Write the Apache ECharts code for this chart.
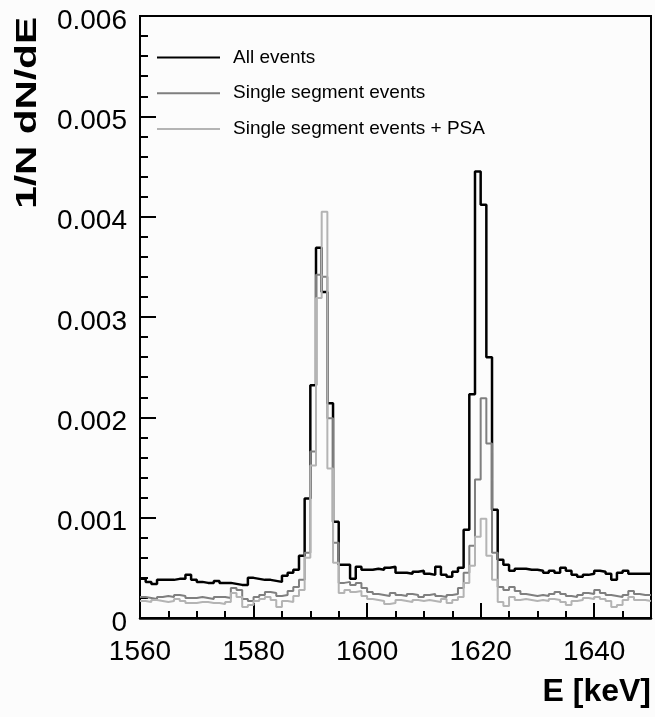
<!DOCTYPE html>
<html><head><meta charset="utf-8">
<script src="https://cdn.jsdelivr.net/npm/echarts@6/dist/echarts.min.js"></script>
<style>html,body{margin:0;padding:0;background:#fcfcfc}#c{width:655px;height:717px}</style>
</head><body><div id="c"></div>
<script>
// Histogram binning (1 keV bins from 1560 to 1650 keV)
const binStart = 1560;
const binWidth = 1;
const xMin = 1560, xMax = 1650, xMajor = 20, xMinor = 5;
const yMin = 0, yMax = 0.006, yMajor = 0.001;

const seriesNames = ['All events', 'Single segment events', 'Single segment events + PSA'];

const allEvents = [
0.00039,0.00036,0.00034,0.00038,0.00038,0.00038,0.00039,0.00039,0.00043,0.00038,
0.00036,0.00035,0.00035,0.00037,0.00035,0.00035,0.00034,0.00033,0.00033,0.00040,
0.00039,0.00038,0.00038,0.00037,0.00036,0.00042,0.00045,0.00048,0.00062,0.00119,
0.00232,0.00369,0.00325,0.00214,0.00096,0.00053,0.00053,0.00039,0.00051,0.00048,
0.00048,0.00049,0.00048,0.00050,0.00051,0.00045,0.00045,0.00044,0.00046,0.00047,
0.00044,0.00043,0.00051,0.00043,0.00041,0.00046,0.00050,0.00088,0.00223,0.00445,
0.00412,0.00260,0.00108,0.00058,0.00053,0.00047,0.00049,0.00049,0.00048,0.00048,
0.00047,0.00045,0.00047,0.00045,0.00050,0.00047,0.00043,0.00041,0.00043,0.00044,
0.00047,0.00046,0.00044,0.00038,0.00045,0.00047,0.00044,0.00044,0.00044,0.00044
];

const singleSeg = [
0.00021,0.00020,0.00019,0.00021,0.00022,0.00021,0.00023,0.00022,0.00020,0.00020,
0.00021,0.00020,0.00019,0.00021,0.00021,0.00020,0.00030,0.00028,0.00019,0.00017,
0.00021,0.00023,0.00026,0.00025,0.00022,0.00023,0.00027,0.00031,0.00038,0.00065,
0.00166,0.00342,0.00340,0.00199,0.00075,0.00035,0.00036,0.00033,0.00035,0.00030,
0.00026,0.00024,0.00023,0.00022,0.00025,0.00023,0.00022,0.00024,0.00023,0.00021,
0.00023,0.00024,0.00022,0.00021,0.00023,0.00024,0.00030,0.00045,0.00072,0.00138,
0.00219,0.00174,0.00065,0.00031,0.00028,0.00031,0.00027,0.00024,0.00023,0.00022,
0.00023,0.00022,0.00024,0.00026,0.00024,0.00022,0.00021,0.00023,0.00025,0.00024,
0.00028,0.00025,0.00023,0.00022,0.00021,0.00023,0.00027,0.00024,0.00023,0.00023
];

const singleSegPSA = [
0.00017,0.00016,0.00018,0.00017,0.00016,0.00017,0.00019,0.00017,0.00015,0.00015,
0.00016,0.00016,0.00015,0.00015,0.00014,0.00016,0.00025,0.00021,0.00011,0.00013,
0.00017,0.00019,0.00021,0.00018,0.00011,0.00017,0.00016,0.00022,0.00028,0.00060,
0.00152,0.00319,0.00405,0.00149,0.00055,0.00025,0.00028,0.00026,0.00027,0.00022,
0.00019,0.00018,0.00017,0.00014,0.00015,0.00018,0.00017,0.00016,0.00018,0.00017,
0.00018,0.00017,0.00016,0.00019,0.00015,0.00018,0.00021,0.00035,0.00052,0.00081,
0.00099,0.00062,0.00038,0.00016,0.00012,0.00021,0.00018,0.00019,0.00018,0.00017,
0.00018,0.00017,0.00019,0.00018,0.00016,0.00013,0.00017,0.00018,0.00020,0.00019,
0.00021,0.00019,0.00017,0.00011,0.00013,0.00018,0.00021,0.00018,0.00018,0.00017
];

function histPoints(vals) {
  const pts = vals.map((v, i) => [binStart + i * binWidth, v]);
  pts.push([binStart + vals.length * binWidth, vals[vals.length - 1]]);
  return pts;
}

const FONT = '"Liberation Sans", Arial, Helvetica, sans-serif';
const chart = echarts.init(document.getElementById('c'), null, {renderer: 'canvas'});

function mkSeries(name, vals, color, w) {
  return {
    name: name, type: 'line', step: 'end', data: histPoints(vals),
    symbol: 'none', showSymbol: false, xAxisIndex: 0, yAxisIndex: 0,
    lineStyle: {color: color, width: w}, itemStyle: {color: color},
    animation: false, silent: true
  };
}

chart.setOption({
  backgroundColor: '#fcfcfc',
  animation: false,
  grid: {left: 140, right: 4, top: 16, bottom: 99, show: true, borderColor: '#000', borderWidth: 2, backgroundColor: 'transparent'},
  legend: {
    orient: 'vertical', left: 157, top: 48, padding: 0,
    icon: 'rect', itemWidth: 63, itemHeight: 2, itemGap: 16.7,
    data: seriesNames,
    itemStyle: {borderWidth: 0},
    textStyle: {fontFamily: FONT, fontSize: 19, color: '#000', lineHeight: 19, height: 19, padding: [0, 0, 0, 8]},
    selectedMode: false
  },
  xAxis: [{
    type: 'value', min: xMin, max: xMax, interval: xMajor, position: 'bottom',
    axisLine: {show: true, onZero: false, lineStyle: {color: '#000', width: 2.5}},
    axisTick: {show: true, inside: true, length: 15, lineStyle: {color: '#000', width: 2}},
    axisLabel: {show: true, showMaxLabel: false, fontFamily: FONT, fontSize: 28, color: '#000', margin: 20,
      formatter: v => String(v)},
    splitLine: {show: false}
  }, {
    type: 'value', min: xMin, max: xMax, interval: xMinor, position: 'bottom',
    axisLine: {show: false},
    axisTick: {show: true, inside: true, length: 7, lineStyle: {color: '#000', width: 2}},
    axisLabel: {show: false},
    splitLine: {show: false}
  }],
  yAxis: {
    type: 'value', min: yMin, max: yMax, interval: yMajor,
    axisLine: {show: true, onZero: false, lineStyle: {color: '#000', width: 2}},
    axisTick: {show: true, inside: true, length: 16, lineStyle: {color: '#000', width: 2}},
    minorTick: {show: true, splitNumber: 5, length: 8, lineStyle: {color: '#000', width: 2}},
    axisLabel: {fontFamily: FONT, fontSize: 28, color: '#000', margin: 13, verticalAlign: 'top', lineHeight: 10},
    splitLine: {show: false}
  },
  graphic: [{
    type: 'text', x: 28, y: 17, rotation: Math.PI / 2, scaleX: 1.4,
    style: {text: '1/N dN/dE', font: 'bold 29px ' + FONT, fill: '#000', textAlign: 'right', textVerticalAlign: 'middle'}
  }, {
    type: 'text', x: 651, y: 692,
    style: {text: 'E [keV]', font: 'bold 32px ' + FONT, fill: '#000', textAlign: 'right', textVerticalAlign: 'middle'}
  }],
  series: [
    mkSeries(seriesNames[0], allEvents, '#000000', 2.5),
    mkSeries(seriesNames[1], singleSeg, '#7f7f7f', 2),
    mkSeries(seriesNames[2], singleSegPSA, '#b4b4b4', 2)
  ]
});
</script></body></html>
